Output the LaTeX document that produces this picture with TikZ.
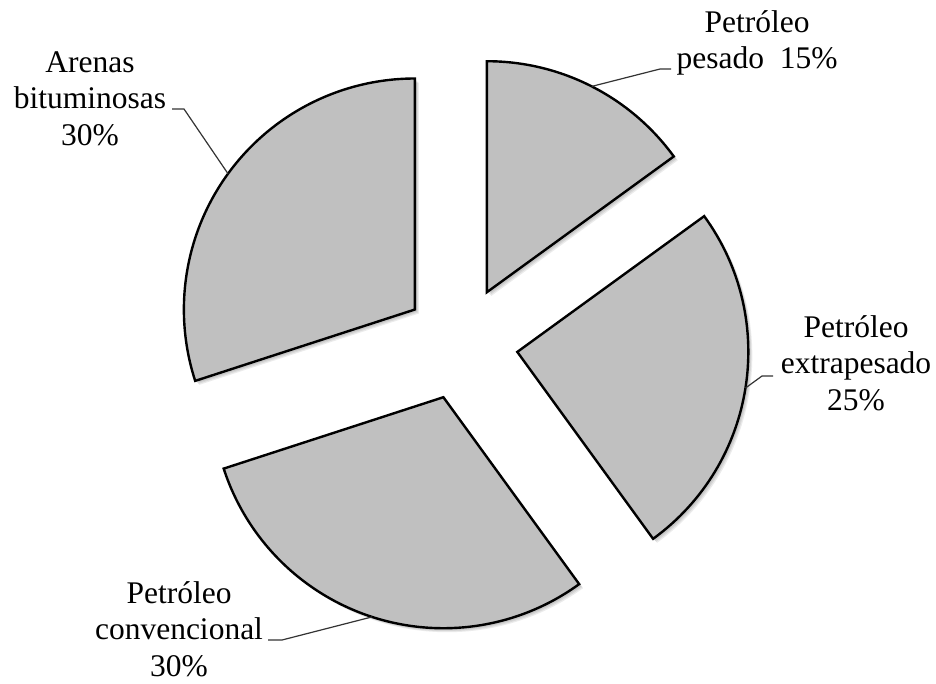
\documentclass[tikz,border=0pt]{standalone}
\usepackage{fontspec}
\setmainfont{Liberation Serif}
\usetikzlibrary{calc}
\definecolor{slicegray}{RGB}{192,192,192}
\tikzset{
  wedge/.style={draw=black, line width=2.4pt, fill=slicegray, line join=miter},
  wedgeshadow/.style={fill=black, opacity=0.08, draw=none},
  leader/.style={draw=black!80, line width=1.2pt},
  lbl/.style={inner sep=0pt, anchor=base, font=\fontsize{31.5}{36.5}\selectfont},
}
\begin{document}
\begin{tikzpicture}[x=1pt, y=1pt]
  \useasboundingbox (0,-683) rectangle (936,0);
  \fill[white] (0,-683) rectangle (936,0);

  % centre of the exploded pie
  \coordinate (C) at (461,-343);

  % the four wedges, each pushed out along its bisector
  \foreach \nm/\a/\b in {pes/36/90, ext/-54/36, con/-162/-54, are/90/198} {
    \pgfmathsetmacro\m{(\a+\b)/2}
    \coordinate (\nm-apex) at ($(C)+(\m:57)$);
    \coordinate (\nm-mid) at ($(\nm-apex)+(\m:231)$);
    \foreach \s in {4,3,2} {
      \fill[wedgeshadow] ($(\nm-apex)+(\s,-\s)$) -- ++(\a:231pt)
        arc[start angle=\a, end angle=\b, radius=231pt] -- cycle;
    }
    \draw[wedge] (\nm-apex) -- ++(\a:231pt)
      arc[start angle=\a, end angle=\b, radius=231pt] -- cycle;
  }

  % labels
  \node[lbl] (pesL) at (757,-32)
    {\begin{tabular}[t]{@{}c@{}}Petróleo\\pesado~~15\%\end{tabular}};
  \node[lbl] (areL) at (90,-72)
    {\begin{tabular}[t]{@{}c@{}}Arenas\\bituminosas\\30\%\end{tabular}};
  \node[lbl] (extL) at (856,-337)
    {\begin{tabular}[t]{@{}c@{}}Petróleo\\extrapesado\\25\%\end{tabular}};
  \node[lbl] (conL) at (179,-603)
    {\begin{tabular}[t]{@{}c@{}}Petróleo\\convencional\\30\%\end{tabular}};

  % leader lines from the wedge arcs to the labels
  \coordinate (pesE) at (671,-69);
  \coordinate (areE) at (172,-109);
  \coordinate (extE) at (773,-376);
  \coordinate (conE) at (268,-640);
  \draw[leader] (pes-mid) -- ($(pesE)+(-11,0)$) -- (pesE);
  \draw[leader] (are-mid) -- ($(areE)+(12,0)$) -- (areE);
  \draw[leader] (ext-mid) -- ($(extE)+(-11,0)$) -- (extE);
  \draw[leader] (con-mid) -- ($(conE)+(14,0)$) -- (conE);
\end{tikzpicture}
\end{document}
